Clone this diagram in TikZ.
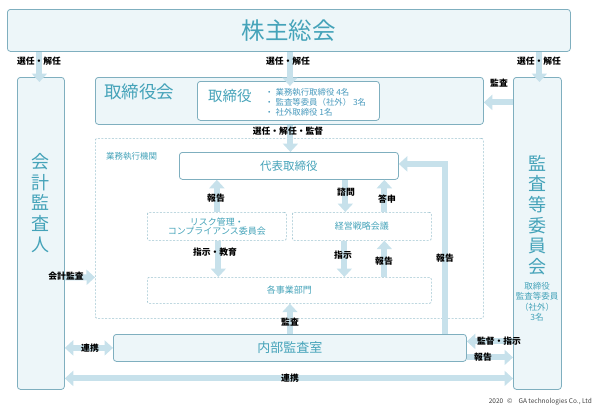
\documentclass[tikz,border=0pt]{standalone}
\usepackage{fontspec}
\setmainfont{Noto Sans CJK JP}
\usetikzlibrary{arrows.meta}
\definecolor{boxline}{HTML}{7FAFBF}
\definecolor{boxfill}{HTML}{EDF6F9}
\definecolor{teal}{HTML}{45A3B9}
\definecolor{bltext}{HTML}{4A9BBE}
\definecolor{arrcol}{HTML}{C7E1EB}
\definecolor{dashcol}{HTML}{9DC3CF}
\tikzset{
  box/.style={draw=boxline, line width=0.8pt, fill=boxfill, rounded corners=3pt, anchor=north west, inner sep=0pt},
  wbox/.style={box, fill=white},
  dbox/.style={draw=dashcol, line width=0.7pt, dash pattern=on 2pt off 1.5pt, rounded corners=2pt, anchor=north west, inner sep=0pt, text=teal, font=\fontsize{9}{11}\selectfont},
  arr/.style={draw=arrcol, line width=6pt, line join=miter, -{Triangle[width=15pt,length=8.5pt]}},
  darr/.style={draw=arrcol, line width=6pt, {Triangle[width=15pt,length=8.5pt]}-{Triangle[width=15pt,length=8.5pt]}},
  lbl/.style={font=\fontsize{8.8}{10}\selectfont\bfseries, text=black, inner sep=0pt},
  vtext/.style={text=teal, font=\fontsize{18}{20.6}\selectfont, align=center, inner sep=0pt},
}
\begin{document}
\begin{tikzpicture}[x=1pt,y=-1pt]
\useasboundingbox (0,0) rectangle (596,407);
% boxes
\node[box, minimum width=563pt, minimum height=42pt, text=teal, font=\fontsize{23.5}{26}\selectfont] (kabu) at (7,9) {株主総会};
\node[box, minimum width=47pt, minimum height=312pt] (kaikei) at (17,77) {};
\node[box, minimum width=48pt, minimum height=312pt] (kansa) at (513,77) {};
\node[box, minimum width=388pt, minimum height=47pt] (torikai) at (95,77) {};
\node[wbox, minimum width=182pt, minimum height=39pt] (tori) at (197,81) {};
\node[dbox, minimum width=388pt, minimum height=180pt] (exec) at (95,138) {};
\node[wbox, minimum width=219pt, minimum height=27pt, text=teal, font=\fontsize{11.5}{13}\selectfont] (daihyo) at (179,152) {代表取締役};
\node[dbox, minimum width=139pt, minimum height=28pt, align=center] (risk) at (147,212) {リスク管理・\\[-1.5pt]コンプライアンス委員会};
\node[dbox, minimum width=139pt, minimum height=28pt] (keiei) at (292,212) {経営戦略会議};
\node[dbox, minimum width=284pt, minimum height=26pt] (kakuji) at (147,277) {各事業部門};
\node[box, minimum width=353pt, minimum height=27pt, text=teal, font=\fontsize{13}{15}\selectfont] (naibu) at (113,334) {内部監査室};
% texts inside
\node[text=teal, font=\fontsize{17.5}{20}\selectfont, anchor=west, inner sep=0pt] (torikaiT) at (104,92) {取締役会};
\node[text=teal, font=\fontsize{14.5}{16}\selectfont, anchor=west, inner sep=0pt] (toriT) at (208,96) {取締役};
\node[text=bltext, font=\fontsize{8.4}{10}\selectfont, anchor=west, align=left, inner sep=0pt] (toriL) at (265,102) {・\hspace{2pt}業務執行取締役 4名\\・\hspace{2pt}監査等委員（社外） 3名\\・\hspace{2pt}社外取締役 1名};
\node[text=teal, font=\fontsize{8.5}{10}\selectfont, anchor=west, inner sep=0pt] (execT) at (106,156) {業務執行機関};
\node[vtext] (kaikeiT) at (40.5,203) {会\\計\\監\\査\\人};
\node[vtext] (kansaT) at (537,215) {監\\査\\等\\委\\員\\会};
\node[text=teal, font=\fontsize{8.5}{10.5}\selectfont, align=center, inner sep=0pt] (kansaS) at (537,302) {取締役\\監査等委員\\（社外）\\3名};
% arrows
\draw[arr] ([xshift=-1.5pt]kabu.south -| kaikei.north) -- ([xshift=-1.5pt,yshift=-5pt]kaikei.north);
\draw[arr] ([xshift=1.5pt]kabu.south -| tori.north) -- ([xshift=1.5pt,yshift=-5pt]tori.north);
\draw[arr] ([xshift=2pt]kabu.south -| kansa.north) -- ([xshift=2pt,yshift=-5pt]kansa.north);
\draw[arr] ([yshift=-1.5pt]kansa.west |- torikai.east) -- ([yshift=-1.5pt]torikai.east);
\draw[arr] ([xshift=1.5pt]torikai.south -| daihyo.north) -- ([xshift=1.5pt]daihyo.north);
\draw[arr] (risk.north) -- (daihyo.south -| risk.north);
\draw[arr] ([xshift=-16.5pt]daihyo.south -| keiei.north) -- ([xshift=-16.5pt]keiei.north);
\draw[arr] ([xshift=22.5pt]keiei.north) -- ([xshift=22.5pt]daihyo.south -| keiei.north);
\draw[arr] ([xshift=1.5pt]risk.south) -- ([xshift=1.5pt]kakuji.north -| risk.south);
\draw[arr] ([xshift=-17.5pt]keiei.south) -- ([xshift=-17.5pt]kakuji.north -| keiei.south);
\draw[arr] ([xshift=22.5pt]kakuji.north -| keiei.south) -- ([xshift=22.5pt]keiei.south);
\draw[arr] ([xshift=155.5pt]naibu.north) |- ([yshift=2pt]daihyo.east);
\draw[arr] (naibu.north) -- (kakuji.south -| naibu.north);
\draw[arr] ([yshift=-44pt]kaikei.east) -- ([yshift=-49pt]exec.west);
\draw[darr] (kaikei.east |- naibu.west) -- (naibu.west);
\draw[arr] ([yshift=6.5pt]kansa.west |- naibu.east) -- ([yshift=6.5pt]naibu.east);
\draw[arr] ([yshift=-9.5pt]naibu.east) -- ([yshift=-9.5pt]kansa.west |- naibu.east);
\draw[darr] ([yshift=-145pt]kaikei.east) -- ([yshift=-145pt]kansa.west);
% labels
\node[lbl] (l1) at (39,61) {選任・解任};
\node[lbl] (l2) at (288,61) {選任・解任};
\node[lbl] (l3) at (539,61) {選任・解任};
\node[lbl] (l4) at (499,83) {監査};
\node[lbl] (l5) at (288,131) {選任・解任・監督};
\node[lbl] (l6) at (216,198) {報告};
\node[lbl] (l7) at (346,192) {諮問};
\node[lbl] (l8) at (387,199) {答申};
\node[lbl] (l9) at (215,252) {指示・教育};
\node[lbl] (l10) at (343,255) {指示};
\node[lbl] (l11) at (384,261) {報告};
\node[lbl] (l12) at (445,258) {報告};
\node[lbl] (l13) at (66,276) {会計監査};
\node[lbl] (l14) at (290,322) {監査};
\node[lbl] (l15) at (90,348) {連携};
\node[lbl] (l16) at (499,341) {監督・指示};
\node[lbl] (l17) at (483,357) {報告};
\node[lbl] (l18) at (290,378) {連携};
\node[text=black!75, font=\fontsize{6.5}{8}\selectfont, anchor=east, inner sep=0pt] (copy) at (592,402) {2020\hspace{4pt}©\hspace{6pt}GA technologies Co., Ltd};
\end{tikzpicture}
\end{document}
